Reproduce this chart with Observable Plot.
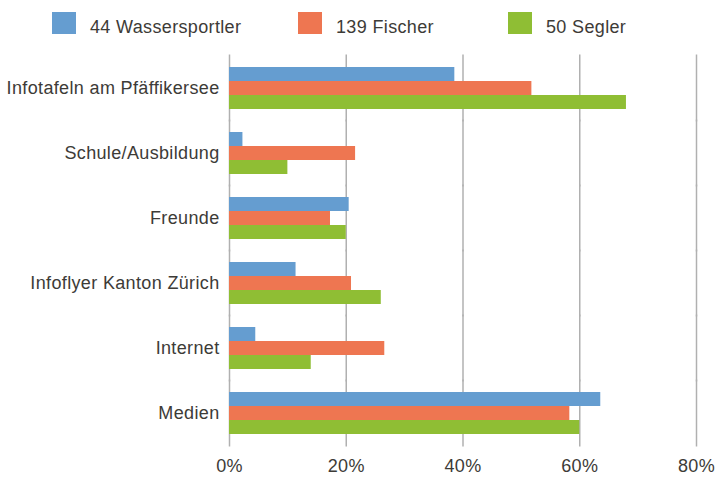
<!DOCTYPE html>
<html>
<head>
<meta charset="utf-8">
<script src="https://cdn.jsdelivr.net/npm/d3@7"></script>
<script src="https://cdn.jsdelivr.net/npm/@observablehq/plot@0.6"></script>
<style>
  html, body { margin: 0; padding: 0; background: #fff; }
  body { width: 716px; height: 477px; overflow: hidden; font-family: "Liberation Sans", Arial, sans-serif; color: #3d3b37; }
  #legend { position: relative; height: 48px; }
  .item { position: absolute; top: 0; height: 48px; }
  .sw { position: absolute; top: 12px; left: 0; width: 24px; height: 22px; }
  .lbl { position: absolute; left: 38px; top: 18px; font-size: 18px; line-height: 18px; letter-spacing: 0.35px; white-space: nowrap; }
  #chart svg text { letter-spacing: 0.35px; }
</style>
</head>
<body>
<div id="legend"></div>
<div id="chart"></div>
<script>
const categories = ["Infotafeln am Pfäffikersee", "Schule/Ausbildung", "Freunde", "Infoflyer Kanton Zürich", "Internet", "Medien"];
const series = ["44 Wassersportler", "139 Fischer", "50 Segler"];
const wassersportler = [38.6, 2.3, 20.5, 11.4, 4.5, 63.6];
const fischer = [51.8, 21.6, 17.3, 20.9, 26.6, 58.3];
const segler = [68.0, 10.0, 20.0, 26.0, 14.0, 60.0];
const xTicks = [0, 20, 40, 60, 80];
const colors = ["#659dd0", "#ee7651", "#8fbe34"];

const seriesValues = [wassersportler, fischer, segler];
const data = [];
categories.forEach((c, i) => {
  series.forEach((s, j) => data.push({category: c, series: s, value: seriesValues[j][i]}));
});

// legend
const legendLefts = [52, 298, 508];
const legend = document.getElementById("legend");
series.forEach((s, j) => {
  const it = document.createElement("div");
  it.className = "item";
  it.style.left = legendLefts[j] + "px";
  const sw = document.createElement("div");
  sw.className = "sw";
  sw.style.background = colors[j];
  const lb = document.createElement("div");
  lb.className = "lbl";
  lb.textContent = s;
  it.appendChild(sw); it.appendChild(lb);
  legend.appendChild(it);
});

const chart = Plot.plot({
  width: 716,
  height: 429,
  marginLeft: 229,
  marginRight: 20,
  marginTop: 7,
  marginBottom: 32,
  style: {fontFamily: "'Liberation Sans', Arial, sans-serif", fontSize: "18px", color: "#3d3b37", background: "#fff"},
  x: {domain: [0, 80], ticks: xTicks, tickFormat: d => d + "%", tickSize: 0, tickPadding: 25, label: null},
  y: {domain: series, axis: null, padding: 0},
  fy: {domain: categories, paddingInner: 0.34, paddingOuter: 0.17, label: null, tickSize: 0, tickPadding: 10},
  color: {domain: series, range: colors},
  marks: [
    Plot.ruleX(xTicks, {x: d => d, stroke: "#b0b0b0", strokeWidth: 1.5, insetTop: -11.5, insetBottom: -12.5}),
    Plot.barX(data, {x: "value", y: "series", fy: "category", fill: "series"})
  ]
});
document.getElementById("chart").appendChild(chart);
</script>
</body>
</html>
